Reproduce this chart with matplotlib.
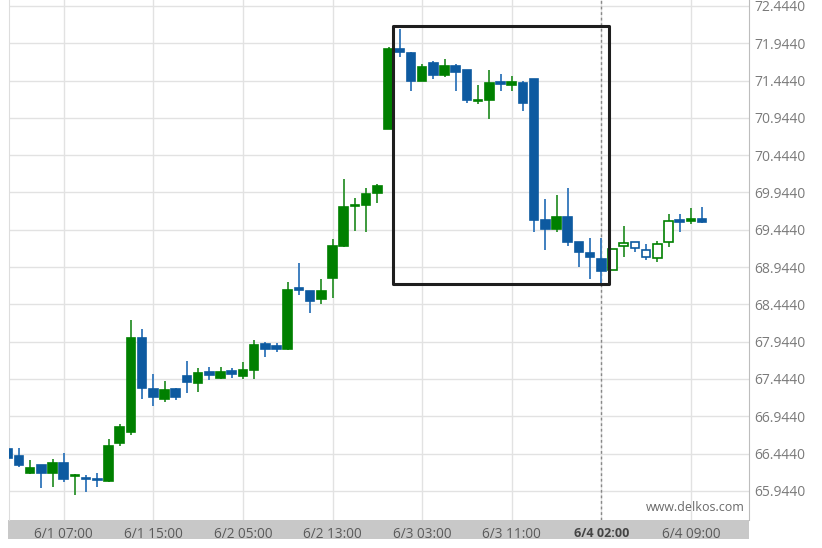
import matplotlib
matplotlib.use("Agg")
import matplotlib.pyplot as plt
from matplotlib.patches import Rectangle
import numpy as np

# hourly candles
opens = [66.50, 66.41, 66.19, 66.29, 66.18, 66.32, 66.14, 66.12, 66.10, 66.08,
         66.58, 66.74, 67.99, 67.31, 67.18, 67.31, 67.48, 67.39, 67.54, 67.46,
         67.55, 67.49, 67.57, 67.91, 67.88, 67.84, 68.66, 68.63, 68.51, 68.80,
         69.22, 69.76, 69.78, 69.94, 70.80, 71.87, 71.82, 71.44, 71.68, 71.52,
         71.64, 71.59, 71.17, 71.18, 71.42, 71.38, 71.41, 71.46, 69.57, 69.46,
         69.62, 69.28, 69.13, 69.05, 68.90, 69.23, 69.28, 69.17, 69.06, 69.28,
         69.57, 69.56, 69.59]
highs = [66.52, 66.52, 66.36, 66.29, 66.37, 66.45, 66.17, 66.16, 66.19, 66.64,
         66.84, 68.23, 68.11, 67.51, 67.42, 67.32, 67.68, 67.59, 67.60, 67.60,
         67.59, 67.67, 67.97, 67.94, 67.93, 68.74, 69.00, 68.63, 68.79, 69.32,
         70.13, 69.87, 70.00, 70.06, 71.90, 72.14, 71.83, 71.67, 71.71, 71.73,
         71.67, 71.59, 71.38, 71.58, 71.53, 71.51, 71.44, 71.47, 69.85, 69.91,
         70.01, 69.28, 69.33, 69.33, 69.19, 69.50, 69.28, 69.25, 69.30, 69.66,
         69.65, 69.73, 69.75]
lows = [66.37, 66.27, 66.17, 65.98, 65.99, 66.06, 65.89, 65.93, 65.99, 66.06,
        66.55, 66.69, 67.17, 67.08, 67.13, 67.16, 67.26, 67.27, 67.43, 67.44,
        67.46, 67.44, 67.45, 67.74, 67.80, 67.83, 68.57, 68.33, 68.45, 68.53,
        69.21, 69.43, 69.41, 69.80, 70.79, 71.76, 71.30, 71.44, 71.47, 71.49,
        71.30, 71.14, 71.13, 70.93, 71.30, 71.30, 71.03, 69.41, 69.17, 69.41,
        69.23, 68.94, 68.79, 68.72, 68.90, 69.08, 69.14, 69.04, 69.01, 69.21,
        69.41, 69.52, 69.53]
closes = [66.38, 66.29, 66.25, 66.18, 66.32, 66.10, 66.16, 66.11, 66.09, 66.54,
          66.80, 67.99, 67.33, 67.20, 67.30, 67.20, 67.40, 67.53, 67.50, 67.54,
          67.51, 67.57, 67.90, 67.85, 67.84, 68.64, 68.64, 68.49, 68.63, 69.22,
          69.75, 69.78, 69.93, 70.03, 71.87, 71.83, 71.44, 71.62, 71.52, 71.64,
          71.56, 71.18, 71.18, 71.41, 71.40, 71.43, 71.14, 69.58, 69.46, 69.62,
          69.28, 69.15, 69.08, 68.89, 69.19, 69.27, 69.20, 69.08, 69.25, 69.56,
          69.55, 69.59, 69.55]
hollow = [54, 55, 56, 57, 58, 59]

tick_idx = [5, 13, 21, 29, 37, 45, 53, 61]
tick_labels = ["6/1 07:00", "6/1 15:00", "6/2 05:00", "6/2 13:00",
               "6/3 03:00", "6/3 11:00", "6/4 02:00", "6/4 09:00"]
y_ticks = [65.944, 66.444, 66.944, 67.444, 67.944, 68.444, 68.944,
           69.444, 69.944, 70.444, 70.944, 71.444, 71.944, 72.444]
pattern_start, pattern_end = 35, 53
marker_idx = 53

GREEN = "#008000"
BLUE = "#0d5aa0"
GREEN_WICK = "#3c9a3c"
BLUE_WICK = "#3f7fbf"

plt.rcParams["font.family"] = ["Open Sans", "DejaVu Sans"]

fig = plt.figure(figsize=(8.22, 5.48), dpi=100)

# gray time-axis band, behind the chart axes
band = fig.add_axes([8 / 822, 9 / 548, 741 / 822, 19 / 548], zorder=0)
band.set_facecolor("#c8c8c8")
band.set_xticks([])
band.set_yticks([])
for sp in band.spines.values():
    sp.set_visible(False)

ax = fig.add_axes([8.5 / 822, 28 / 548, 740 / 822, 520 / 548], zorder=1)

o = np.array(opens)
h = np.array(highs)
l = np.array(lows)
c = np.array(closes)
x = np.arange(len(o))
up = c >= o
body_col = np.where(up, GREEN, BLUE)
wick_col = np.where(up, GREEN_WICK, BLUE_WICK)
face = body_col.copy()
face[hollow] = "white"

ax.vlines(x, l, h, colors=wick_col, linewidth=1.4, zorder=2)
ax.bar(x, c - o, bottom=o, width=0.78, color=face, edgecolor=body_col,
       linewidth=1.2, zorder=3)

# pattern box
sl = slice(pattern_start, pattern_end + 1)
bx0 = pattern_start - 0.57
bx1 = pattern_end + 0.7
by0 = l[sl].min()
by1 = h[sl].max() + 0.04
ax.add_patch(Rectangle((bx0, by0), bx1 - bx0, by1 - by0, fill=False,
                       edgecolor="#1e1e1e", linewidth=2.2, joinstyle="round",
                       zorder=4))

ax.axvline(marker_idx, color="#888888", linestyle=(0, (2, 2)), linewidth=1,
           zorder=1)

ax.set_xlim(0.07, 66.14)
ax.set_ylim(65.554, 72.524)

ax.set_xticks(tick_idx)
ax.set_xticklabels(tick_labels)
ax.set_yticks(y_ticks)
ax.set_yticklabels([f"{v:.4f}" for v in y_ticks])
ax.yaxis.tick_right()
ax.tick_params(axis="y", length=0, pad=4, labelsize=10, labelcolor="#7a7a7a")
ax.tick_params(axis="x", length=0, pad=5, labelsize=9.8, labelcolor="#5a5a5a")
for lab in ax.get_xticklabels():
    if lab.get_text() == "6/4 02:00":
        lab.set_fontweight("bold")
        lab.set_fontsize(9)
        lab.set_color("#444444")

ax.grid(True, color="#e2e2e2", linewidth=1)
ax.set_axisbelow(True)
for side in ("top", "bottom"):
    ax.spines[side].set_visible(False)
ax.spines["right"].set_color("#bdbdbd")
ax.spines["left"].set_color("#dddddd")

ax.text(0.995, 0.012, "www.delkos.com", transform=ax.transAxes, ha="right",
        va="bottom", fontsize=9, color="#6a6a6a")

fig.savefig("out.png", dpi=100)
